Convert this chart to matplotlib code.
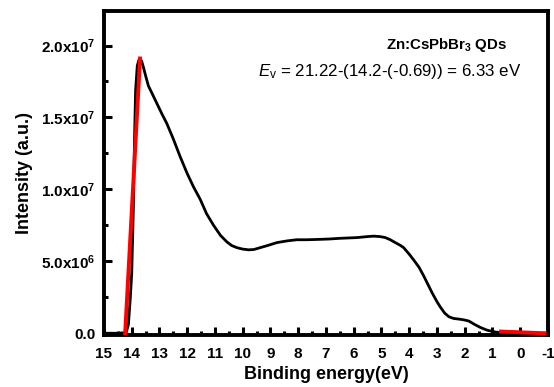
import matplotlib
matplotlib.use("Agg")
import matplotlib.pyplot as plt
from matplotlib.ticker import MultipleLocator

plt.rcParams['font.family'] = ['Liberation Sans', 'DejaVu Sans']
plt.rcParams['mathtext.fontset'] = 'custom'
plt.rcParams['mathtext.rm'] = 'Liberation Sans:bold'
plt.rcParams['mathtext.bf'] = 'Liberation Sans:bold'
plt.rcParams['mathtext.it'] = 'Liberation Sans:italic'
plt.rcParams['mathtext.sf'] = 'Liberation Sans'

# Binding energy (eV) and intensity (x1e6 a.u.)
energy = [15.0, 14.5, 14.2, 14.12, 14.05, 14.0, 13.94, 13.9, 13.86, 13.8, 13.74, 13.70,
          13.64, 13.58, 13.5, 13.4, 13.25, 13.1, 12.9, 12.74, 12.5, 12.26, 12.0, 11.78,
          11.53, 11.3, 11.05, 10.8, 10.57, 10.4, 10.21, 10.0, 9.79, 9.6, 9.37, 9.1, 8.77,
          8.4, 8.05, 7.7, 7.33, 6.9, 6.48, 5.88, 5.5, 5.28, 5.05, 4.86, 4.68, 4.5, 4.31,
          4.2, 4.0, 3.84, 3.65, 3.48, 3.3, 3.17, 3.0, 2.87, 2.72, 2.57, 2.4, 2.15, 2.0,
          1.85, 1.65, 1.43, 1.2, 0.94, 0.7, 0.4, 0.0, -0.5, -0.9]
intensity = [0.0, 0.0, 0.05, 0.6, 2.5, 4.2, 8.8, 13.5, 16.9, 18.6, 19.0, 19.1,
             18.9, 18.5, 17.9, 17.2, 16.6, 16.0, 15.2, 14.6, 13.5, 12.3, 11.1, 10.2,
             9.3, 8.3, 7.5, 6.8, 6.35, 6.1, 5.95, 5.85, 5.8, 5.82, 5.95, 6.1, 6.3,
             6.42, 6.5, 6.5, 6.52, 6.55, 6.6, 6.65, 6.72, 6.75, 6.72, 6.65, 6.5, 6.3, 6.1,
             5.95, 5.5, 5.1, 4.6, 4.0, 3.3, 2.8, 2.2, 1.8, 1.4, 1.15, 1.03, 0.97, 0.92,
             0.85, 0.62, 0.4, 0.22, 0.1, 0.04, 0.0, 0.0, 0.0, 0.0]

# Linear extrapolation lines (eV, x1e6)
fit1_x = [14.24, 13.70]
fit1_y = [-0.1, 19.1]
fit2_x = [0.69, -0.88]
fit2_y = [0.12, 0.0]

ytick_vals = [0, 5e6, 1e7, 1.5e7, 2e7]
ytick_labels = ['0.0', '5.0x10$^{6}$', '1.0x10$^{7}$', '1.5x10$^{7}$', '2.0x10$^{7}$']
xtick_vals = list(range(15, -2, -1))
xtick_labels = [str(v) for v in xtick_vals]

fig = plt.figure(figsize=(5.54, 3.87), dpi=100)
ax = fig.add_axes([0.1877, 0.1344, 0.8013, 0.8372])

ax.plot(energy, [v * 1e6 for v in intensity], color='black', lw=2.0,
        solid_joinstyle='round', zorder=2)
ax.plot(fit1_x, [v * 1e6 for v in fit1_y], color='red', lw=2.8, zorder=3)
ax.plot(fit2_x, [v * 1e6 for v in fit2_y], color='red', lw=2.8, zorder=3)

ax.set_xlim(15, -1)
ax.set_ylim(-0.12e6, 22.4e6)

ax.set_xticks(xtick_vals)
ax.set_xticklabels(xtick_labels)
ax.set_yticks(ytick_vals)
ax.set_yticklabels(ytick_labels)
ax.xaxis.set_minor_locator(MultipleLocator(0.5))
ax.yaxis.set_minor_locator(MultipleLocator(2.5e6))

ax.tick_params(which='both', direction='in', top=False, right=False, width=2.2)
ax.tick_params(which='major', length=5.5, labelsize=11)
ax.tick_params(axis='x', which='major', pad=9)
ax.tick_params(axis='y', which='major', pad=6)
ax.tick_params(which='minor', length=3)
for lab in ax.get_xticklabels() + ax.get_yticklabels():
    lab.set_fontweight('bold')

for sp in ax.spines.values():
    sp.set_linewidth(2.8)

ax.set_xlabel('Binding energy(eV)', fontsize=13, fontweight='bold', labelpad=3.5)
ax.set_ylabel('Intensity (a.u.)', fontsize=13, fontweight='bold', labelpad=6)

ax.text(0.908, 0.895, 'Zn:CsPbBr$_{3}$ QDs', transform=ax.transAxes, ha='right',
        va='center', fontsize=10.8, fontweight='bold')
ax.text(0.941, 0.813, r'$\mathit{E}_{\mathsf{v}}$ = 21.22-(14.2-(-0.69)) = 6.33 eV',
        transform=ax.transAxes, ha='right', va='center', fontsize=12.2)

fig.savefig('out.png', dpi=100)
